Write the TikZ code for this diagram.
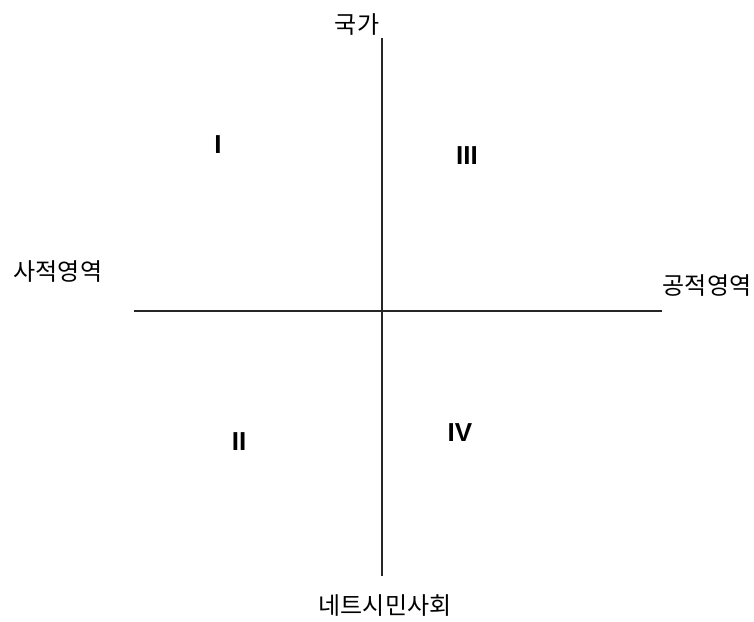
\documentclass[tikz,border=0pt]{standalone}
\usepackage{fontspec}
\setmainfont{Liberation Sans}
\newfontfamily\krfont{Noto Sans CJK KR}
\usepackage{tikz}
\usetikzlibrary{positioning}

\begin{document}
\begin{tikzpicture}[
  x=1pt, y=-1pt,
  axis/.style={line width=1.8pt, black!85},
  lbl/.style={font=\krfont\fontsize{24}{26}\selectfont, inner sep=0pt},
  quad/.style={font=\bfseries\fontsize{26}{28}\selectfont, inner sep=0pt},
]
\useasboundingbox (0,0) rectangle (754,621);

% axes
\coordinate (top) at (382,38);
\coordinate (bottom) at (382,576);
\coordinate (left) at (134,311);
\coordinate (right) at (662,311);

\draw[axis] (top) -- (bottom);
\draw[axis] (left) -- (right);

% axis labels
\node[lbl] (state) at (357,25) {국가};
\node[lbl] (private) at (58,272) {사적영역};
\node[lbl] (public) at (707,286) {공적영역};
\node[lbl] (society) at (385,606) {네트시민사회};

% quadrants
\node[quad] (q1) at (218,145) {I};
\node[quad] (q3) at (467,156) {III};
\node[quad] (q2) at (239,442) {II};
\node[quad] (q4) at (460,433) {IV};

\end{tikzpicture}
\end{document}
